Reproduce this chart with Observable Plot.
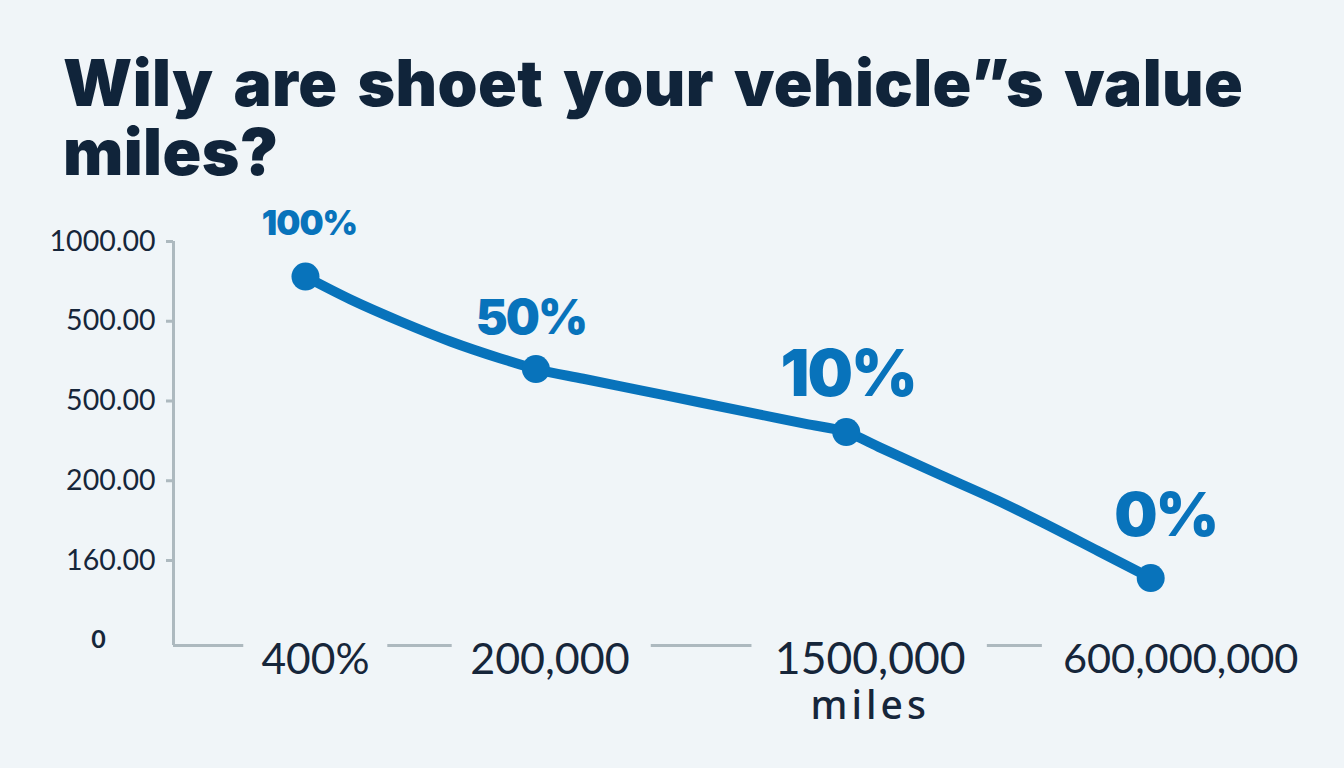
<!DOCTYPE html>
<html>
<head>
<meta charset="utf-8">
<script src="https://cdn.jsdelivr.net/npm/d3@7"></script>
<script src="https://cdn.jsdelivr.net/npm/@observablehq/plot@0.6"></script>
<style>
html,body{margin:0;padding:0;background:#f0f5f8;width:1344px;height:768px;overflow:hidden}
#title{height:190px;box-sizing:border-box;padding:48px 0 0 63px;margin:0;font:900 64px/69px Inter,sans-serif;word-spacing:7px;letter-spacing:.4px;color:#10243a;width:1300px}
#chart svg{display:block;background:transparent}
.miles-label text{letter-spacing:4px}
.tight text{letter-spacing:-2px}
.tight-small text{letter-spacing:-1px}
</style>
</head>
<body>
<h1 id="title">Wily are shoet your vehicle”s value<br>miles?</h1>
<div id="chart"></div>
<script>
const xValues = [1.127, 3.095, 5.745, 8.345];
const yValues = [4.56, 3.40, 2.61, 0.78];
const lineX = [1.127, 1.512, 1.938, 2.365, 2.793, 3.095, 3.5, 4.0, 4.5, 5.0, 5.4, 5.745, 6.04, 6.55, 7.037, 7.404, 7.9, 8.345];
const lineY = [4.56, 4.273, 3.997, 3.746, 3.533, 3.40, 3.279, 3.13, 2.981, 2.832, 2.713, 2.61, 2.412, 2.072, 1.752, 1.489, 1.116, 0.78];
const pointLabels = ["100%", "50%", "10%", "0%"];
const xTickLabels = ["400%", "200,000", "1500,000", "600,000,000"];
const yTicks = [1, 2, 3, 4, 5];
const yTickLabels = ["160.00", "200.00", "500.00", "500.00", "1000.00"];
const baselineStart = [0, 1.83, 4.08, 6.95];
const baselineEnd = [0.6, 2.38, 4.94, 7.42];
const xAxisLabel = "miles";

const ink = "#16263a", blue = "#0873bb", axisGrey = "#adb9bf";
const points = xValues.map((x, i) => ({x, y: yValues[i]}));
const linePoints = lineX.map((x, i) => ({x, y: lineY[i]}));
const baseY = -0.065;

const labelStyle = [
  {size: 34, dx: 4, dy: -52, cls: "tight-small"},
  {size: 48, dx: -5, dy: -50, cls: "tight"},
  {size: 64, dx: 2, dy: -57, cls: "tight"},
  {size: 61, dx: 15, dy: -62, cls: "tight"}
];
const tickStyle = [{dx: 10, size: 42.5}, {dx: 14, size: 43}, {dx: 24, size: 44.5}, {dx: 30, size: 41.5}];

const chart = Plot.plot({
  width: 1344, height: 578,
  marginTop: 0, marginRight: 0, marginBottom: 0, marginLeft: 173,
  style: {background: "transparent", overflow: "visible"},
  x: {domain: [0, 10], range: [173, 1344], axis: null},
  y: {domain: [0, 5], range: [449.75, 51], axis: null},
  marks: [
    Plot.ruleX([0], {y1: baseY, y2: 5, stroke: axisGrey, strokeWidth: 3}),
    Plot.axisY(yTicks, {
      anchor: "left", ticks: yTicks, tickSize: 7, tickPadding: 11,
      tickFormat: d => yTickLabels[yTicks.indexOf(d)],
      stroke: axisGrey, strokeWidth: 3, fontSize: 28.5, fill: ink, label: null,
      fontFamily: "Lato, sans-serif"
    }),
    Plot.text(["0"], {x: -0.64, y: 0, text: d => d, fontSize: 25, fontWeight: 700, fill: ink, fontFamily: "Lato, sans-serif"}),
    Plot.ruleY(baselineStart.map((s, i) => ({s, e: baselineEnd[i]})), {y: baseY, x1: "s", x2: "e", stroke: axisGrey, strokeWidth: 3}),
    Plot.line(linePoints, {x: "x", y: "y", stroke: blue, strokeWidth: 10, curve: "monotone-x"}),
    Plot.dot(points, {x: "x", y: "y", r: 14, fill: blue}),
    ...pointLabels.map((t, i) => Plot.text([points[i]], {
      x: "x", y: "y", text: () => t, dx: labelStyle[i].dx, dy: labelStyle[i].dy,
      fontSize: labelStyle[i].size, fontWeight: 900, fill: blue, fontFamily: "Inter, sans-serif", className: labelStyle[i].cls
    })),
    ...xTickLabels.map((t, i) => Plot.text([xValues[i]], {
      x: d => d, y: -0.25, text: () => t, dx: tickStyle[i].dx, fontSize: tickStyle[i].size,
      fill: ink, fontFamily: "Lato, sans-serif"
    })),
    Plot.text([xAxisLabel], {x: 5.95, y: -0.83, text: d => d, fontSize: 39, fontWeight: 500, fill: ink, fontFamily: "Noto Sans, sans-serif", className: "miles-label"})
  ]
});
document.getElementById("chart").appendChild(chart);
</script>
</body>
</html>
